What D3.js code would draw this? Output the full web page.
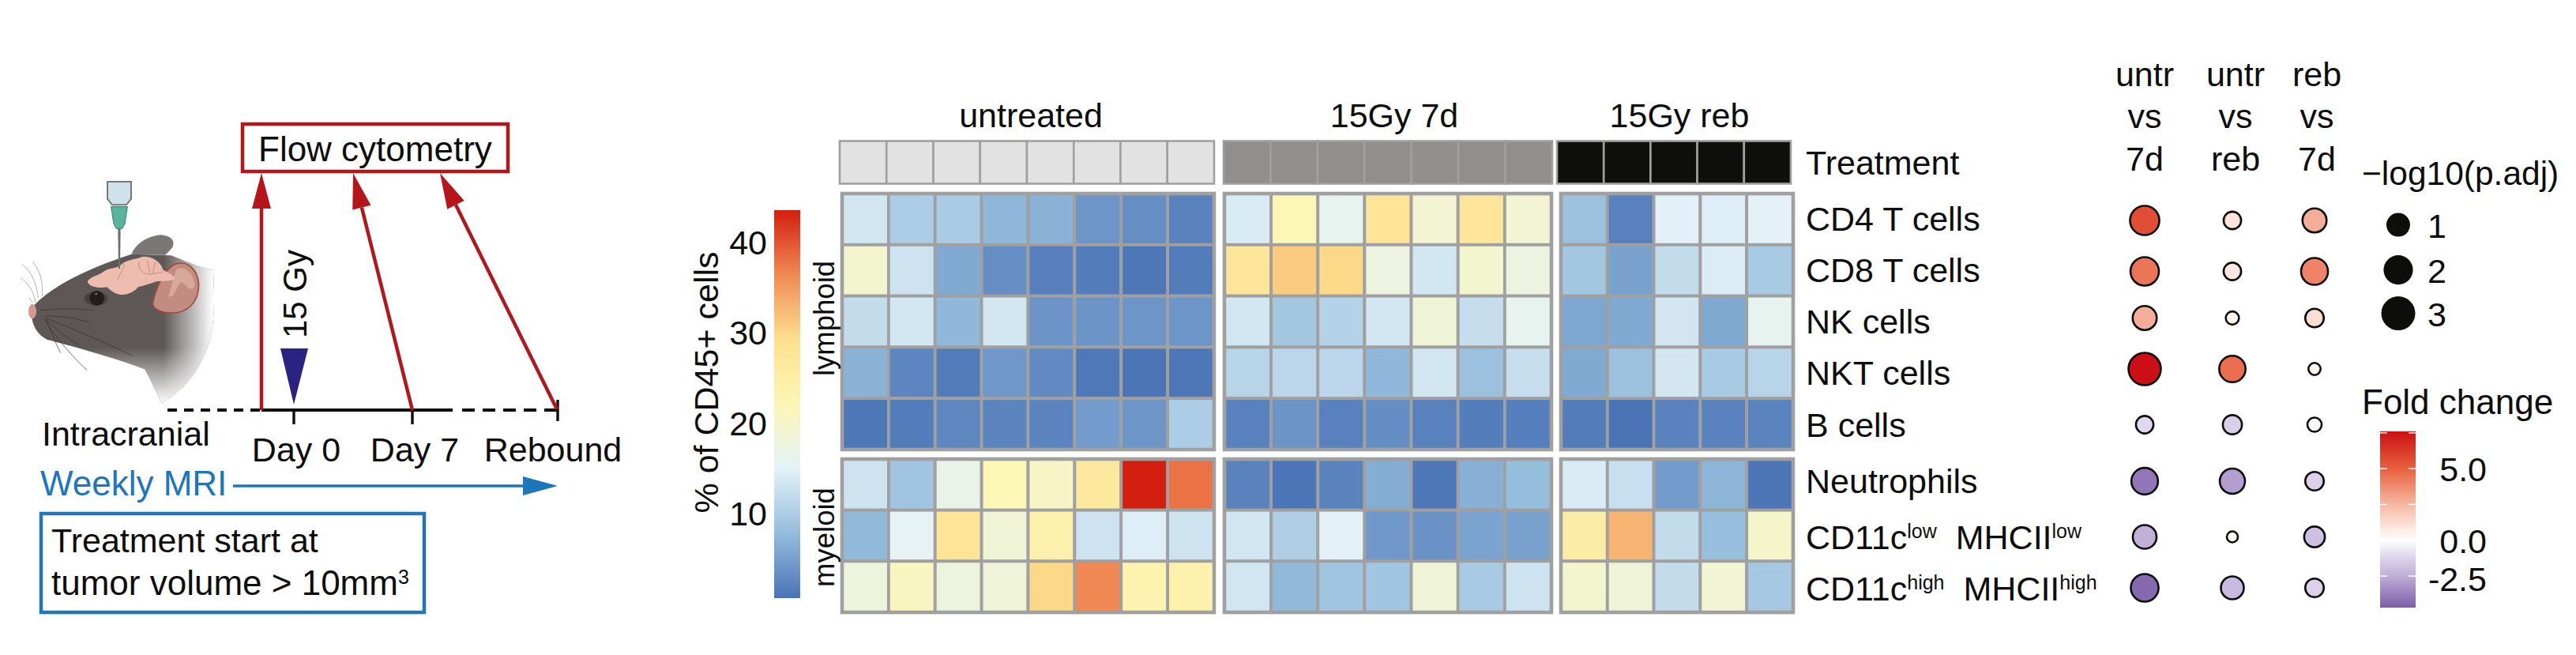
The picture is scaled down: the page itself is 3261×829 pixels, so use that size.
<!DOCTYPE html>
<meta charset="UTF-8">
<style>
    body { margin: 0; background: #fff; }
    svg { display: block; }
    text { font-family: "Liberation Sans", Arial, sans-serif; font-size: 43px; fill: #0d0d0d; }
</style>
<body>
<script src="https://d3js.org/d3.v7.min.js"></script>
<script>

var rowLabels = ["CD4 T cells", "CD8 T cells", "NK cells", "NKT cells", "B cells",
    "Neutrophils", "CD11c^low^ MHCII^low^", "CD11c^high^ MHCII^high^"];
var lymphoidRows = rowLabels.slice(0, 5);
var myeloidRows = rowLabels.slice(5);

var groupNames = ["untreated", "15Gy 7d", "15Gy reb"];
var groupFills = ["#e2e2e2", "#918e8d", "#0e0e0a"];

// % of CD45+ cells, one line per row, one number per sample
var untreatedValues = [
    [13.5, 10, 9.8, 7.3, 6.8, 4, 3.3, 2.2],
    [19.5, 13, 6, 3.3, 1.8, 1.5, 1, 1.5],
    [12, 13.5, 7.4, 13.5, 3.9, 3.9, 4, 4],
    [6.8, 2.5, 1.5, 4.2, 2.9, 1.1, 0.8, 1],
    [1, 1.5, 2.6, 2.4, 2.3, 4.6, 4, 10],
    [13, 9, 16.8, 22, 20.5, 26.5, 43.6, 38],
    [7.5, 15.5, 28, 18.5, 24, 13, 14.5, 13],
    [18, 21, 17.8, 18.3, 30, 36.5, 23, 23.5]
];
var day7Values = [
    [14, 22, 16, 28, 19, 27.5, 19],
    [27.5, 31, 30, 17.5, 13.5, 19.5, 17.5],
    [13.5, 9.2, 10.8, 13.5, 18.5, 12.2, 16],
    [11, 11.3, 11.3, 7.4, 13.5, 8.4, 12.3],
    [2, 3.9, 2, 3.2, 2, 1.6, 1.7],
    [2.2, 0.8, 2.2, 6.3, 1, 6.6, 7.9],
    [13.4, 10.2, 15, 4.3, 3.7, 5.4, 5.2],
    [13.4, 7.5, 9, 9.1, 18.5, 9.6, 13]
];
var reboundValues = [
    [8.5, 2, 14.8, 14.4, 15],
    [9.2, 5.3, 12, 14.2, 9.6],
    [5.6, 6, 13.4, 5.9, 16],
    [6, 8.4, 13.5, 9.7, 11],
    [1.5, 0.65, 2.1, 2.1, 2.3],
    [14, 12.4, 4.6, 7.1, 0.9],
    [25, 33, 12, 8.2, 19.8],
    [19.5, 18.3, 12, 18.8, 9.4]
];

var heatDomain = [0.65, 7.8, 15, 22.1, 29.3, 36.4, 43.6];
var heatColors = ["#4a73b6", "#94bcdc", "#e4f2f8", "#fcf6b6", "#fde08f", "#f08a55", "#d31f0f"];
var heatTicks = [10, 20, 30, 40];

var comparisons = [["untr", "vs", "7d"], ["untr", "vs", "reb"], ["reb", "vs", "7d"]];
var foldChange = [
    [5.6, 0.9, 2.8],
    [4.4, 0.8, 4.0],
    [2.8, 0.4, 1.2],
    [7.6, 4.6, 0.4],
    [-1.1, -1.4, 0.2],
    [-4.0, -2.9, -1.3],
    [-2.4, 0.1, -1.9],
    [-4.4, -2.1, -1.3]
];
var logP = [
    [2.4, 0.6, 1.4],
    [2.2, 0.6, 1.9],
    [1.4, 0.2, 0.7],
    [3.05, 1.8, 0.1],
    [0.6, 0.75, 0.3],
    [1.85, 1.6, 0.7],
    [1.35, 0, 0.9],
    [2.05, 1.2, 0.7]
];
var sizeLegend = [1, 2, 3];
var foldDomain = [-4.7, -2.5, -1, 0, 2.5, 5, 7.6];
var foldColors = ["#7b5ea7", "#bfaed8", "#e2dbee", "#ffffff", "#f6b8a2", "#e8603f", "#cb0f14"];
var foldTicks = [7.5, 5, 2.5, 0, -2.5];
var foldLabels = {"5": "5.0", "0": "0.0", "-2.5": "-2.5"};

var svg = d3.select("body").append("svg")
    .attr("width", 3261)
    .attr("height", 829);
var defs = svg.append("defs");

// ****************** heatmap ***************************

var heatColor = d3.scaleLinear().domain(heatDomain).range(heatColors);
var gridColor = "#a0a0a0";

var panels = [
    {values: untreatedValues, fill: groupFills[0], name: groupNames[0], x: [1066, 1537], ax: [1063, 1537], labelX: 1305},
    {values: day7Values, fill: groupFills[1], name: groupNames[1], x: [1550, 1964], ax: [1549, 1965], labelX: 1765},
    {values: reboundValues, fill: groupFills[2], name: groupNames[2], x: [1976, 2270], ax: [1971, 2267], labelX: 2126}
];

var rowLym = d3.scaleBand().domain(lymphoidRows).range([245, 569]);
var rowMye = d3.scaleBand().domain(myeloidRows).range([581, 775]);
function rowScale(name) {
    return lymphoidRows.indexOf(name) >= 0 ? rowLym : rowMye;
}

panels.forEach(function(p) {
    var n = p.values[0].length;
    var samples = d3.range(n);
    var col = d3.scaleBand().domain(samples).range(p.x);
    var annot = d3.scaleBand().domain(samples).range(p.ax);
    var g = svg.append("g");

    g.append("text").attr("x", p.labelX).attr("y", 161)
        .attr("text-anchor", "middle").text(p.name);

    // treatment strip
    g.selectAll("rect.annot").data(samples).enter().append("rect")
        .attr("class", "annot")
        .attr("x", function(d) { return annot(d); })
        .attr("y", 178.5)
        .attr("width", annot.bandwidth())
        .attr("height", 54)
        .attr("fill", p.fill)
        .attr("stroke", gridColor)
        .attr("stroke-width", 2.6);

    var rows = g.selectAll("g.row").data(rowLabels).enter().append("g").attr("class", "row");
    rows.each(function(name, i) {
        var y = rowScale(name);
        d3.select(this).selectAll("rect").data(p.values[i]).enter().append("rect")
            .attr("x", function(d, j) { return col(j); })
            .attr("y", y(name))
            .attr("width", col.bandwidth())
            .attr("height", y.bandwidth())
            .attr("fill", function(d) { return heatColor(d); })
            .attr("stroke", gridColor)
            .attr("stroke-width", 3.8);
    });

    // heavier outline round each block
    [rowLym, rowMye].forEach(function(y) {
        g.append("rect")
            .attr("x", p.x[0])
            .attr("y", y.range()[0])
            .attr("width", p.x[1] - p.x[0])
            .attr("height", y.range()[1] - y.range()[0])
            .attr("fill", "none")
            .attr("stroke", gridColor)
            .attr("stroke-width", 4.6);
    });
});

// row names, ^x^ means superscript
function addRich(sel, str) {
    str.split("^").forEach(function(part, i) {
        var t = sel.append("tspan").text(part);
        if (i % 2 == 1) {
            t.attr("dy", -14).style("font-size", "25px");
        } else if (i > 0) {
            t.attr("dy", 14).attr("dx", 12);
        }
    });
}

var labelBase = [292, 357, 422, 487, 553, 624, 695, 760];
rowLabels.forEach(function(name, i) {
    var t = svg.append("text").attr("x", 2286).attr("y", labelBase[i]);
    addRich(t, name);
});
svg.append("text").attr("x", 2286).attr("y", 221).text("Treatment");

// heatmap colour bar
var heatY = d3.scaleLinear().domain([0.65, 43.6]).range([757, 266]);
var heatGrad = defs.append("linearGradient").attr("id", "heatGrad")
    .attr("x1", 0).attr("x2", 0).attr("y1", 1).attr("y2", 0);
heatGrad.selectAll("stop").data(heatDomain).enter().append("stop")
    .attr("offset", function(d) { return (d - 0.65) / (43.6 - 0.65); })
    .attr("stop-color", function(d) { return heatColor(d); });
svg.append("rect").attr("x", 980).attr("y", 266).attr("width", 33).attr("height", 491)
    .attr("fill", "url(#heatGrad)");
svg.append("g").selectAll("text").data(heatTicks).enter().append("text")
    .attr("x", 971)
    .attr("y", function(d) { return heatY(d) + 15; })
    .attr("text-anchor", "end")
    .text(function(d) { return d; });

function vertical(x, y, str, size) {
    return svg.append("text")
        .attr("transform", "translate(" + x + "," + y + ") rotate(-90)")
        .attr("text-anchor", "middle")
        .style("font-size", size + "px")
        .text(str);
}
vertical(909, 484, "% of CD45+ cells", 43);
vertical(1056, 403, "lymphoid", 36.5);
vertical(1056, 680, "myeloid", 36.5);

// ****************** dot plot ***************************

var dotX = d3.scaleOrdinal().domain([0, 1, 2]).range([2715, 2826, 2930]);
var dotY = d3.scaleOrdinal().domain(rowLabels).range([279, 343.5, 402.5, 467, 537.5, 609, 679.5, 744]);
var dotR = d3.scaleLinear().domain([0, 1, 2, 3]).range([8.2, 15, 18.6, 21.5]);
var foldColor = d3.scaleLinear().domain(foldDomain).range(foldColors);

var headerX = [2715, 2830, 2933];
var headerY = [109, 162, 216];
comparisons.forEach(function(c, i) {
    svg.append("g").selectAll("text").data(c).enter().append("text")
        .attr("x", headerX[i])
        .attr("y", function(d, j) { return headerY[j]; })
        .attr("text-anchor", "middle")
        .text(function(d) { return d; });
});

rowLabels.forEach(function(name, i) {
    svg.append("g").selectAll("circle").data(logP[i]).enter().append("circle")
        .attr("cx", function(d, j) { return dotX(j); })
        .attr("cy", dotY(name))
        .attr("r", function(d) { return dotR(d) - 1.2; })
        .attr("fill", function(d, j) { return foldColor(foldChange[i][j]); })
        .attr("stroke", "#0d0d0d")
        .attr("stroke-width", 2.6);
});

// size legend
svg.append("text").attr("x", 2990).attr("y", 234).style("font-size", "42.5px").text("\u2212log10(p.adj)");
var legY = d3.scaleOrdinal().domain(sizeLegend).range([284.6, 341.6, 396.6]);
svg.append("g").selectAll("circle").data(sizeLegend).enter().append("circle")
    .attr("cx", 3036)
    .attr("cy", function(d) { return legY(d); })
    .attr("r", function(d) { return dotR(d); })
    .attr("fill", "#0d0d0a");
svg.append("g").selectAll("text").data(sizeLegend).enter().append("text")
    .attr("x", 3073)
    .attr("y", function(d) { return legY(d) + 16; })
    .text(function(d) { return d; });

// fold change bar
svg.append("text").attr("x", 2990).attr("y", 524).style("font-size", "44px").text("Fold change");
var foldY = d3.scaleLinear().domain([-4.7, 7.6]).range([769, 546]);
var foldGrad = defs.append("linearGradient").attr("id", "foldGrad")
    .attr("x1", 0).attr("x2", 0).attr("y1", 1).attr("y2", 0);
foldGrad.selectAll("stop").data(foldDomain).enter().append("stop")
    .attr("offset", function(d) { return (d + 4.7) / 12.3; })
    .attr("stop-color", function(d) { return foldColor(d); });
svg.append("rect").attr("x", 3013).attr("y", 546).attr("width", 45).attr("height", 223)
    .attr("fill", "url(#foldGrad)");
foldTicks.forEach(function(v) {
    [[3013, 3022], [3049, 3058]].forEach(function(s) {
        svg.append("line")
            .attr("x1", s[0]).attr("x2", s[1])
            .attr("y1", foldY(v)).attr("y2", foldY(v))
            .attr("stroke", "#fff").attr("stroke-width", 1.5);
    });
    if (foldLabels[v]) {
        svg.append("text").attr("x", 3148).attr("y", foldY(v) + 16 + (v == -2.5 ? 3 : 0))
            .attr("text-anchor", "end").text(foldLabels[v]);
    }
});

// ****************** treatment schedule ***************************

var red = "#b5161c", blue = "#1c76bb";

svg.append("rect").attr("x", 307).attr("y", 157).attr("width", 336).attr("height", 60)
    .attr("fill", "none").attr("stroke", red).attr("stroke-width", 4.5);
svg.append("text").attr("x", 327).attr("y", 204).style("font-size", "44px").text("Flow cytometry");

function redArrow(x1, y1, x2, y2) {
    var len = Math.hypot(x2 - x1, y2 - y1), ux = (x2 - x1) / len, uy = (y2 - y1) / len;
    var bx = x2 - ux * 45, by = y2 - uy * 45;
    svg.append("line").attr("x1", x1).attr("y1", y1).attr("x2", bx).attr("y2", by)
        .attr("stroke", red).attr("stroke-width", 4.5);
    svg.append("path")
        .attr("d", "M" + x2 + "," + y2 + "L" + (bx - uy * 12) + "," + (by + ux * 12) +
            "L" + (bx + uy * 12) + "," + (by - ux * 12) + "Z")
        .attr("fill", red);
}

// timeline
var black = "#0d0d0d";
svg.append("line").attr("x1", 212).attr("x2", 331).attr("y1", 519).attr("y2", 519)
    .attr("stroke", black).attr("stroke-width", 4.2).attr("stroke-dasharray", "12 9");
svg.append("line").attr("x1", 331).attr("x2", 573).attr("y1", 519).attr("y2", 519)
    .attr("stroke", black).attr("stroke-width", 4.2);
svg.append("line").attr("x1", 585).attr("x2", 706).attr("y1", 519).attr("y2", 519)
    .attr("stroke", black).attr("stroke-width", 4.2).attr("stroke-dasharray", "16 10");
[[372, 519, 537], [522, 519, 537], [706, 506, 533]].forEach(function(t) {
    svg.append("line").attr("x1", t[0]).attr("x2", t[0]).attr("y1", t[1]).attr("y2", t[2])
        .attr("stroke", black).attr("stroke-width", 3.4);
});

redArrow(331, 519, 331, 219);
redArrow(522, 519, 447, 219);
redArrow(705, 518, 557, 219);

svg.append("path").attr("d", "M355,441L390,441L372,512Z").attr("fill", "#2b2382");
vertical(388, 372, "15 Gy", 42);

svg.append("text").attr("x", 53).attr("y", 564).text("Intracranial");
svg.append("text").attr("x", 375).attr("y", 584).attr("text-anchor", "middle").text("Day 0");
svg.append("text").attr("x", 525).attr("y", 584).attr("text-anchor", "middle").text("Day 7");
svg.append("text").attr("x", 700).attr("y", 584).attr("text-anchor", "middle").text("Rebound");

svg.append("text").attr("x", 51).attr("y", 627).style("fill", blue).style("font-size", "44px").text("Weekly MRI");
svg.append("line").attr("x1", 295).attr("x2", 664).attr("y1", 615).attr("y2", 615)
    .attr("stroke", blue).attr("stroke-width", 3.6);
svg.append("path").attr("d", "M662,603L706,615L662,627Z").attr("fill", blue);

svg.append("rect").attr("x", 52).attr("y", 650).attr("width", 485).attr("height", 125)
    .attr("fill", "none").attr("stroke", "#2176b8").attr("stroke-width", 4.5);
svg.append("text").attr("x", 65).attr("y", 699).text("Treatment start at");
var tv = svg.append("text").attr("x", 65).attr("y", 753).style("font-size", "44px");
addRich(tv, "tumor volume > 10mm^3^");

// ****************** mouse drawing ***************************

var mouse = svg.append("g").attr("transform", "translate(20,220) scale(0.3333)");
var headPath = "M60,510C120,440 240,370 440,305L590,310L690,350L750,365C756,500 760,620 700,720C660,800 600,840 555,872C530,820 510,780 490,742C380,700 200,650 120,630C80,610 55,570 60,510Z";

function fade(id, x1, y1, x2, y2) {
    var f = defs.append("linearGradient").attr("id", id)
        .attr("gradientUnits", "userSpaceOnUse")
        .attr("x1", x1).attr("y1", y1).attr("x2", x2).attr("y2", y2);
    f.append("stop").attr("offset", 0).attr("stop-color", "#fff").attr("stop-opacity", 0);
    f.append("stop").attr("offset", 1).attr("stop-color", "#fff").attr("stop-opacity", 1);
}
fade("fadeRight", 560, 0, 750, 0);
fade("fadeDown", 0, 660, 0, 872);

// far ear
mouse.append("path")
    .attr("d", "M440,305C455,262 505,236 552,232C590,235 606,255 596,277C588,290 578,298 568,308Z")
    .attr("fill", "#7b7774");
// head and neck, with the fade laid over it
mouse.append("path").attr("d", headPath).attr("fill", "#5d5855");
mouse.append("path").attr("d", headPath).attr("fill", "url(#fadeRight)");
mouse.append("path").attr("d", headPath).attr("fill", "url(#fadeDown)");
// near ear
mouse.append("path")
    .attr("d", "M520,495C530,440 560,370 600,345C650,325 690,360 695,420C695,490 650,530 590,528C555,528 525,515 520,495Z")
    .attr("fill", "#c28d80").attr("stroke", "#a04c40").attr("stroke-width", 5);
mouse.append("path")
    .attr("d", "M610,362C640,350 672,370 680,420C676,445 660,440 640,420C625,400 620,420 600,460C590,470 578,470 582,455C595,420 600,385 610,362Z")
    .attr("fill", "#d8a898");
// brain
mouse.append("path")
    .attr("d", "M272,410C280,390 320,385 335,370C360,355 385,360 400,345C420,325 460,325 480,315C510,310 550,330 560,365C580,375 600,385 606,400C585,410 555,405 530,410C500,420 480,425 465,430C450,450 420,462 395,458C370,455 360,440 345,430C315,435 280,430 272,410Z")
    .attr("fill", "#eebcae");
mouse.append("path")
    .attr("d", "M470,335C462,360 480,380 510,382L560,372M500,330L510,378M530,335L520,378M412,340C412,360 396,375 388,400")
    .attr("fill", "none").attr("stroke", "#c98a7c").attr("stroke-width", 3);
// eye
mouse.append("ellipse").attr("cx", 305).attr("cy", 474).attr("rx", 44).attr("ry", 27).attr("fill", "#46413e");
mouse.append("circle").attr("cx", 308).attr("cy", 472).attr("r", 28).attr("fill", "#231c1a");
mouse.append("circle").attr("cx", 305).attr("cy", 456).attr("r", 3).attr("fill", "#ccc");
// nose
mouse.append("ellipse").attr("cx", 63).attr("cy", 522).attr("rx", 15).attr("ry", 28).attr("fill", "#d39a8d");
// whiskers
var whiskers = [
    "M85,470C80,420 60,370 25,345", "M100,465C105,420 95,370 65,335", "M75,490C70,450 50,420 20,395",
    "M65,490L50,470", "M95,518C150,512 220,510 290,518", "M110,540C180,540 240,550 280,565",
    "M115,548C220,590 340,640 440,690", "M112,552C150,590 200,625 240,650", "M110,555C150,620 220,700 270,745",
    "M115,552C130,590 150,640 170,680"
];
mouse.selectAll("path.whisker").data(whiskers).enter().append("path")
    .attr("class", "whisker")
    .attr("d", function(d) { return d; })
    .attr("fill", "none")
    .attr("stroke", function(d, i) { return i < 4 ? "#8c8c8c" : "#34302e"; })
    .attr("stroke-width", 2);
// syringe
mouse.append("path").attr("d", "M388,205L398,205L396,360L390,360Z").attr("fill", "#6c6f72");
mouse.append("path")
    .attr("d", "M348,30L438,30L438,95L420,118L366,118L348,95Z")
    .attr("fill", "#cfe2ec").attr("stroke", "#6f7b82").attr("stroke-width", 6);
mouse.append("path")
    .attr("d", "M362,125L424,125L414,190L404,208L382,208L372,190Z")
    .attr("fill", "#58b59c").attr("stroke", "#2f7d70").attr("stroke-width", 3);

</script>
</body>
